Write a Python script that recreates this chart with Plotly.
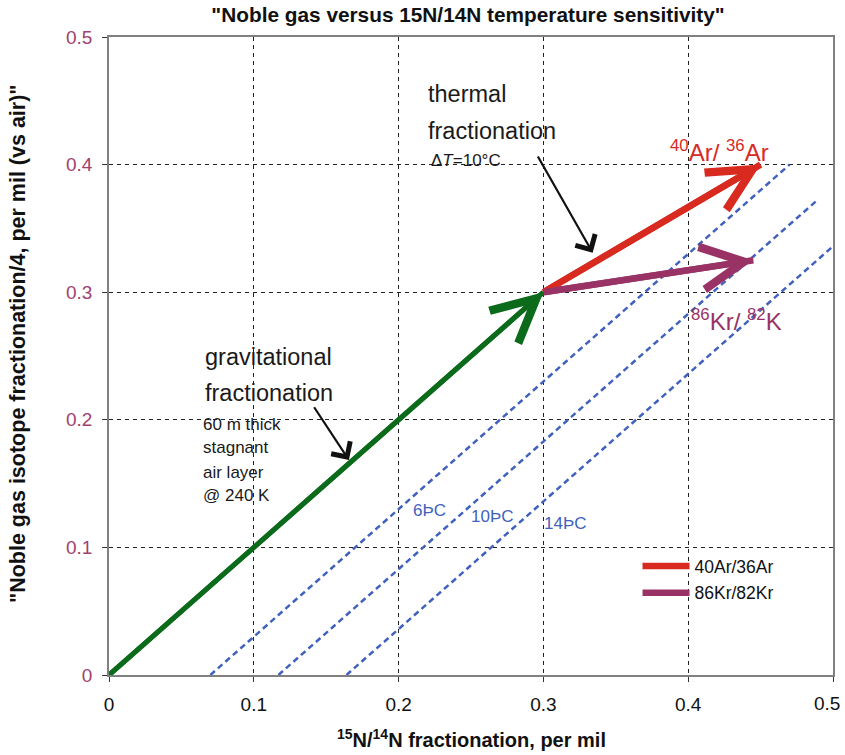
import plotly.graph_objects as go

# Fractionation vectors (start and end points, per mil)
grav_x = [0.0, 0.30]
grav_y = [0.0, 0.30]
ar_x = [0.30, 0.45]
ar_y = [0.30, 0.40]
kr_x = [0.30, 0.445]
kr_y = [0.30, 0.325]

# Constant-temperature-difference lines
iso_names = ["6ÞC", "10ÞC", "14ÞC"]
iso_x = [[0.07, 0.47], [0.117, 0.49], [0.164, 0.50]]
iso_y = [[0.0, 0.40], [0.0, 0.373], [0.0, 0.336]]
iso_label_x = [0.209, 0.249, 0.2997]
iso_label_y = [0.129, 0.124, 0.119]

tick_vals = [0, 0.1, 0.2, 0.3, 0.4, 0.5]
tick_text = ["0", "0.1", "0.2", "0.3", "0.4", "0.5"]

GREEN = "#0B6B1B"
RED = "#D82A1F"
PURPLE = "#993366"
BLUE = "#4062BE"
FONT = "Liberation Sans, Arial, sans-serif"

fig = go.Figure()

for xs, ys in zip(iso_x, iso_y):
    fig.add_trace(go.Scatter(x=xs, y=ys, mode="lines", showlegend=False,
                             line=dict(color=BLUE, width=2.5, dash="6px,4px"),
                             hoverinfo="skip"))

fig.add_trace(go.Scatter(x=grav_x, y=grav_y, mode="lines", showlegend=False,
                         line=dict(color=GREEN, width=5)))
fig.add_trace(go.Scatter(x=ar_x, y=ar_y, mode="lines", name="40Ar/36Ar",
                         legendgroup="ar", line=dict(color=RED, width=6.5)))
fig.add_trace(go.Scatter(x=kr_x, y=kr_y, mode="lines", name="86Kr/82Kr",
                         legendgroup="kr", line=dict(color=PURPLE, width=6.5)))

annotations = []
# Chevron heads on the fractionation vectors
for xs, ys, col, w, s in [(grav_x, grav_y, GREEN, 5, 1.7),
                          (ar_x, ar_y, RED, 6.5, 1.3),
                          (kr_x, kr_y, PURPLE, 6.5, 1.3)]:
    annotations.append(dict(x=xs[1], y=ys[1], ax=xs[0], ay=ys[0],
                            xref="x", yref="y", axref="x", ayref="y",
                            text="", showarrow=True, arrowhead=5,
                            arrowsize=s, arrowwidth=w, arrowcolor=col))

# Pointer arrows
annotations.append(dict(x=0.334, y=0.331, ax=0.2956, ay=0.4075,
                        xref="x", yref="y", axref="x", ayref="y", text="",
                        showarrow=True, arrowhead=4, arrowsize=2.0,
                        arrowwidth=2.2, arrowcolor="#111111"))
annotations.append(dict(x=0.1657, y=0.1685, ax=0.141, ay=0.211,
                        xref="x", yref="y", axref="x", ayref="y", text="",
                        showarrow=True, arrowhead=4, arrowsize=2.0,
                        arrowwidth=2.2, arrowcolor="#111111"))


def label(x, y, text, size, color="#1a1a1a"):
    annotations.append(dict(x=x, y=y, xref="x", yref="y", text=text,
                            showarrow=False, xanchor="left", yanchor="middle",
                            borderpad=0,
                            font=dict(family=FONT, size=size, color=color)))


label(0.2196, 0.455, "thermal", 23.5)
label(0.2196, 0.426, "fractionation", 23.5)
label(0.2217, 0.4036, "Δ<i>T</i>=10°C", 17)
label(0.0656, 0.249, "gravitational", 23.5)
label(0.0656, 0.221, "fractionation", 23.5)
for yy, t in zip([0.196, 0.178, 0.159, 0.141],
                 ["60 m thick", "stagnant", "air layer", "@ 240 K"]):
    label(0.064, yy, t, 17)
label(0.387, 0.411, "<sup>40</sup>Ar/ <sup>36</sup>Ar", 24, RED)
label(0.401, 0.278, "<sup>86</sup>Kr/ <sup>82</sup>K", 24, PURPLE)
for t, lx, ly in zip(iso_names, iso_label_x, iso_label_y):
    label(lx, ly, t, 17, BLUE)

# Last x tick label, nudged inward so it stays inside the page
annotations.append(dict(x=tick_vals[-1], y=-0.0439, xref="x", yref="paper",
                        text=tick_text[-1], showarrow=False, xanchor="center",
                        yanchor="middle", xshift=-6,
                        font=dict(family=FONT, size=19, color="#111111")))

# Axis titles
annotations.append(dict(x=0.5, y=-0.099, xref="paper", yref="paper",
                        text="<b><sup>15</sup>N/<sup>14</sup>N fractionation, per mil</b>",
                        showarrow=False, xanchor="center", yanchor="middle",
                        font=dict(family=FONT, size=20, color="#111111")))
annotations.append(dict(x=-0.126, y=0.52, xref="paper", yref="paper",
                        text="<b>\"Noble gas isotope fractionation/4, per mil (vs air)\"</b>",
                        textangle=-90, showarrow=False, xanchor="center",
                        yanchor="middle",
                        font=dict(family=FONT, size=21.5, color="#111111")))

axis_common = dict(range=[0, 0.5], tickvals=tick_vals,
                   showline=True, linecolor="#808080", linewidth=1.5,
                   mirror=True, ticks="outside", ticklen=5, tickcolor="#333333",
                   showgrid=True, gridcolor="#222222", gridwidth=1,
                   griddash="4px,4px", zeroline=False, automargin=False,
                   ticklabelstandoff=6)

fig.update_layout(
    width=845, height=755,
    margin=dict(l=109, r=12, t=37, b=80),
    plot_bgcolor="white", paper_bgcolor="white",
    title=dict(text="<b>\"Noble gas versus 15N/14N temperature sensitivity\"</b>",
               x=468 / 845, xref="container", xanchor="center",
               y=1 - 15 / 755, yref="container", yanchor="middle",
               font=dict(family=FONT, size=20.8, color="#111111")),
    xaxis=dict(**axis_common, ticktext=tick_text[:-1] + [""],
               tickfont=dict(family=FONT, size=19, color="#111111")),
    yaxis=dict(**axis_common, ticktext=tick_text,
               tickfont=dict(family=FONT, size=19, color="#A0416E")),
    legend=dict(x=0.730, y=0.199, xanchor="left", yanchor="top",
                bgcolor="rgba(255,255,255,0)", tracegroupgap=1,
                itemwidth=47,
                font=dict(family=FONT, size=17.5, color="#111111")),
    annotations=annotations,
    showlegend=True,
)

fig.write_html("out.html")
